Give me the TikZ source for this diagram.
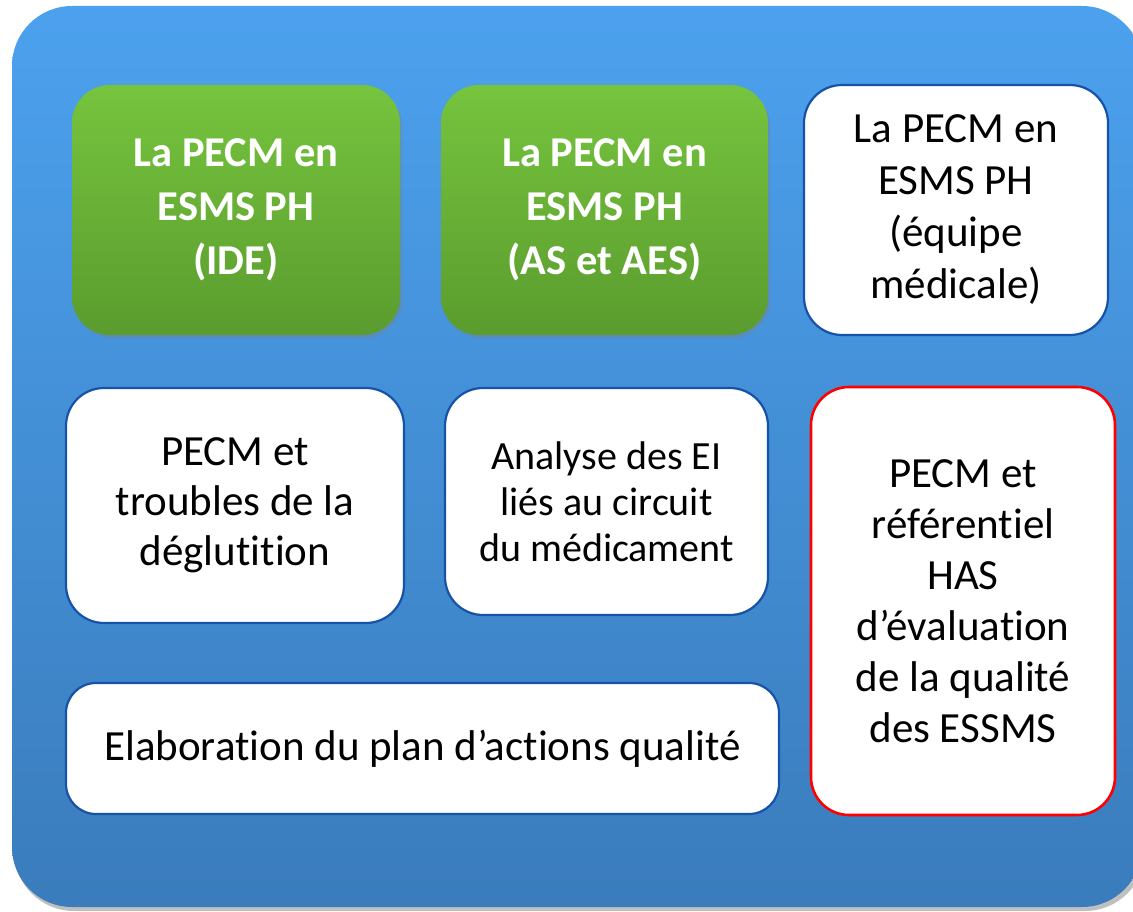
\documentclass[tikz,border=0pt]{standalone}
\usepackage{fontspec}
\setmainfont{Carlito}[Ligatures=CommonOff]
\usetikzlibrary{shadows}
\definecolor{outerTop}{RGB}{76,161,238}
\definecolor{outerBot}{RGB}{58,124,188}
\definecolor{grTop}{RGB}{118,196,62}
\definecolor{grBot}{RGB}{90,156,46}
\definecolor{edgeBlue}{RGB}{22,82,168}
\definecolor{redEdge}{RGB}{255,0,0}
\tikzset{
  card/.style={rectangle, rounded corners=38pt, align=center, inner sep=0pt},
  greencard/.style={card, top color=grTop, bottom color=grBot, draw=none,
     drop shadow={shadow xshift=2pt, shadow yshift=-3pt, opacity=0.35},
     text=white, font={\fontsize{42.5}{54}\selectfont\bfseries}},
  whitecard/.style={card, fill=white, draw=edgeBlue, line width=2.2pt,
     text=black, font={\fontsize{43}{51}\selectfont}},
  redcard/.style={card, fill=white, draw=redEdge, line width=2.6pt,
     text=black, font={\fontsize{43}{51}\selectfont}},
}
\begin{document}
\begin{tikzpicture}[x=1pt,y=-1pt]
\useasboundingbox (0,0) rectangle (1133,912);
% outer panel shadow and panel
\fill[black, opacity=0.25, rounded corners=60pt] (14,9) rectangle (1145,911);
\shade[top color=outerTop, bottom color=outerBot, rounded corners=60pt] (12,6) rectangle (1142,907);
% cards
\node[greencard, minimum width=328pt, minimum height=250pt] (g1) at (236,210)
  {La PECM en\\ESMS PH\\(IDE)};
\node[greencard, minimum width=327pt, minimum height=250pt] (g2) at (604.5,210)
  {La PECM en\\ESMS PH\\(AS et AES)};
\node[whitecard, minimum width=304pt, minimum height=250pt,
      font={\fontsize{43}{52}\selectfont}] (w3) at (956,210)
  {La PECM en\\ESMS PH\\(équipe\\médicale)};
\node[whitecard, minimum width=338pt, minimum height=235pt,
      font={\fontsize{43}{50}\selectfont}] (w4) at (235,505.5)
  {PECM et\\troubles de la\\déglutition};
\node[whitecard, minimum width=323pt, minimum height=227pt,
      font={\fontsize{40}{46}\selectfont}] (w5) at (606.5,501.5)
  {Analyse des EI\\liés au circuit\\du médicament};
\node[redcard, minimum width=304pt, minimum height=428pt] (r6) at (963,601)
  {PECM et\\référentiel\\HAS\\d’évaluation\\de la qualité\\des ESSMS};
\node[whitecard, minimum width=713pt, minimum height=131pt, rounded corners=30pt] (w7) at (422.5,748.5)
  {Elaboration du plan d’actions qualité};
\end{tikzpicture}
\end{document}
